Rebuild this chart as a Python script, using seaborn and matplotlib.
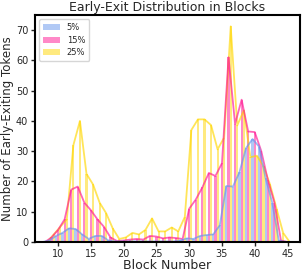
import numpy as np
import pandas as pd
import seaborn as sns
import matplotlib.pyplot as plt

blocks = list(range(8, 46))
tokens_5 = [0, 0.5, 2, 3, 4.5, 4.3, 2.5, 1, 2, 2, 0.5, 0.2, 0.2, 0.2, 0.2, 0.2, 0.2, 0.2, 0.2, 0.2, 0.2,
            0.5, 1.2, 1, 2, 2.3, 2.5, 5.5, 18.5, 18.3, 23, 31, 34, 31.5, 21, 13, 0.5, 0]
tokens_15 = [0, 1.5, 4, 7.5, 17.3, 18.3, 13, 10.5, 7.5, 5, 1.5, 0.3, 0.5, 0.8, 1, 0.8, 2, 1.8, 1.2, 1.5, 1.3,
             1, 11, 14, 18, 22.8, 21.8, 26, 61, 39, 47, 36.5, 36.3, 30, 20.5, 13, 0.5, 0]
tokens_25 = [0, 2.5, 5, 7.5, 32, 40, 22.5, 19, 13, 9.5, 4.5, 1, 1.5, 3, 2.5, 4, 7.8, 3.5, 3.5, 4.8, 3.5,
             8.3, 37, 40.5, 40.5, 38.6, 30.6, 34.5, 71.2, 38.5, 43.5, 28, 28.5, 25, 19, 11, 3, 0]
ratios = ["5%", "15%", "25%"]
colors = ["cornflowerblue", "deeppink", "gold"]

df = pd.DataFrame({
    "block": blocks * 3,
    "tokens": tokens_5 + tokens_15 + tokens_25,
    "ratio": np.repeat(ratios, len(blocks)),
})

sns.set_style("ticks")
fig, ax = plt.subplots(figsize=(3.03, 2.71), dpi=100)

# striped bars
sns.histplot(df, x="block", weights="tokens", hue="ratio", hue_order=ratios,
             discrete=True, multiple="dodge", shrink=1.0, alpha=0.5, linewidth=0,
             palette=colors, ax=ax)
# outline polygons
sns.histplot(df, x="block", weights="tokens", hue="ratio", hue_order=ratios,
             discrete=True, multiple="dodge", element="poly", fill=False,
             palette=colors, alpha=0.65, linewidth=1.3, legend=False, ax=ax)

sns.move_legend(ax, "upper left", title=None, fontsize=6, frameon=True,
                handlelength=2.0, borderpad=0.5, labelspacing=0.4, handletextpad=0.8)

ax.set_xlim(6.5, 46.9)
ax.set_ylim(0, 75)
ax.set_xticks([10, 15, 20, 25, 30, 35, 40, 45])
ax.set_yticks(range(0, 71, 10))
ax.tick_params(labelsize=7, width=1, length=3, pad=2)
for s in ax.spines.values():
    s.set_linewidth(1.5)
    s.set_color("black")
ax.set_xlabel("Block Number", fontsize=9, labelpad=0)
ax.set_ylabel("Number of Early-Exiting Tokens", fontsize=8.5, labelpad=1)
ax.set_title("Early-Exit Distribution in Blocks", fontsize=9, pad=3)

plt.subplots_adjust(left=0.116, right=0.99, top=0.945, bottom=0.107)
fig.savefig("out.png", dpi=100)
